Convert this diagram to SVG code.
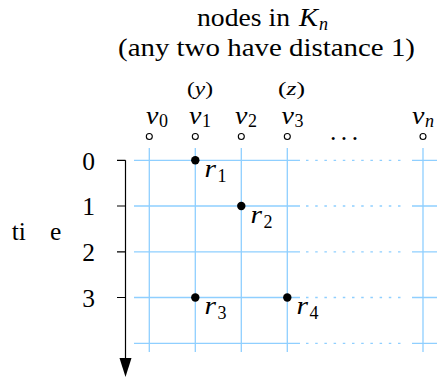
<svg xmlns="http://www.w3.org/2000/svg" width="438" height="379" viewBox="0 0 438 379" font-family="'Liberation Serif', 'Times New Roman', serif">
<style>
text{font-family:"Liberation Serif","Times New Roman",serif;fill:#000}
.rm{font-size:25.5px}
.it{font-size:25.5px;font-style:italic}
.sub{font-size:18px}
.subi{font-size:18px;font-style:italic}
.sm{font-size:19px}
.g{stroke:#8fcfff;stroke-width:1.3;fill:none}
.gd{stroke:#8fcfff;stroke-width:1.3;fill:none;stroke-dasharray:2.5 6.7}
.ax{stroke:#000;stroke-width:1.2;fill:none}
.open{fill:#fff;stroke:#000;stroke-width:1.1}
</style>
<g id="title">
<text class="rm" x="197" y="26" textLength="93" lengthAdjust="spacingAndGlyphs">nodes in</text>
<text class="it" x="299" y="26" textLength="19" lengthAdjust="spacingAndGlyphs">K</text>
<text class="subi" x="319" y="30">n</text>
<text class="rm" x="118" y="56" textLength="297" lengthAdjust="spacingAndGlyphs">(any two have distance 1)</text>
</g>
<g id="connectors">
<g id="grid-h">
<path class="g" d="M134 160.3H300M134 206H300M134 251.8H300M134 297.5H300M134 343.3H300"/>
<path class="gd" d="M306 160.3H402M306 206H402M306 251.8H402M306 297.5H402M306 343.3H402"/>
<path class="g" d="M412 160.3H437M412 206H437M412 251.8H437M412 297.5H437M412 343.3H437"/>
</g>
<g id="grid-v">
<path class="g" d="M149.3 148V352M195.3 148V352M241.3 148V352M287.3 148V352M423 148V352"/>
</g>
<g id="time-axis">
<path class="ax" d="M125.5 160.3V360M117 160.3H125.5M117 206H125.5M117 251.8H125.5M117 297.5H125.5"/>
<polygon points="119.5,358 131.5,358 125.5,377" fill="#000"/>
</g>
</g>
<g id="node-v0"><circle class="open" cx="149.3" cy="136.5" r="3"/><text class="it" x="146" y="123.5" textLength="12.4" lengthAdjust="spacingAndGlyphs">v</text><text class="sub" x="159" y="127">0</text></g>
<g id="node-v1"><circle class="open" cx="195.3" cy="136.5" r="3"/><text class="it" x="189" y="123.5" textLength="12.4" lengthAdjust="spacingAndGlyphs">v</text><text class="sub" x="202" y="127">1</text>
<text class="sm" x="187" y="95" textLength="26" lengthAdjust="spacingAndGlyphs">(<tspan font-style="italic">y</tspan>)</text></g>
<g id="node-v2"><circle class="open" cx="241.3" cy="136.5" r="3"/><text class="it" x="235" y="123.5" textLength="12.4" lengthAdjust="spacingAndGlyphs">v</text><text class="sub" x="248" y="127">2</text></g>
<g id="node-v3"><circle class="open" cx="287.3" cy="136.5" r="3"/><text class="it" x="281.5" y="123.5" textLength="12.4" lengthAdjust="spacingAndGlyphs">v</text><text class="sub" x="294.5" y="127">3</text>
<text class="sm" x="278" y="95" textLength="27" lengthAdjust="spacingAndGlyphs">(<tspan font-style="italic">z</tspan>)</text></g>
<g id="dots"><text class="rm" x="330" y="140" font-size="22" textLength="28" lengthAdjust="spacing">. . .</text></g>
<g id="node-vn"><circle class="open" cx="423" cy="136.5" r="3"/><text class="it" x="412" y="123.5" textLength="12.4" lengthAdjust="spacingAndGlyphs">v</text><text class="subi" x="425" y="127">n</text></g>
<g id="time-labels">
<text class="rm" x="11.7" y="240">ti</text><text class="rm" x="50" y="240">e</text>
<text class="rm" x="88.5" y="169.5" text-anchor="middle">0</text>
<text class="rm" x="88.5" y="215.2" text-anchor="middle">1</text>
<text class="rm" x="88.5" y="261" text-anchor="middle">2</text>
<text class="rm" x="88.5" y="306.7" text-anchor="middle">3</text>
</g>
<g id="r1"><circle cx="195.3" cy="160.3" r="4.2"/><text class="it" x="204.5" y="176.8" textLength="11.5" lengthAdjust="spacingAndGlyphs">r</text><text class="sub" x="217.5" y="181.8">1</text></g>
<g id="r2"><circle cx="241.3" cy="206" r="4.2"/><text class="it" x="250.5" y="222.5" textLength="11.5" lengthAdjust="spacingAndGlyphs">r</text><text class="sub" x="263.5" y="227.5">2</text></g>
<g id="r3"><circle cx="195.3" cy="297.5" r="4.2"/><text class="it" x="204.5" y="314" textLength="11.5" lengthAdjust="spacingAndGlyphs">r</text><text class="sub" x="217.5" y="319">3</text></g>
<g id="r4"><circle cx="287.3" cy="297.5" r="4.2"/><text class="it" x="296.5" y="314" textLength="11.5" lengthAdjust="spacingAndGlyphs">r</text><text class="sub" x="309.5" y="319">4</text></g>
</svg>
